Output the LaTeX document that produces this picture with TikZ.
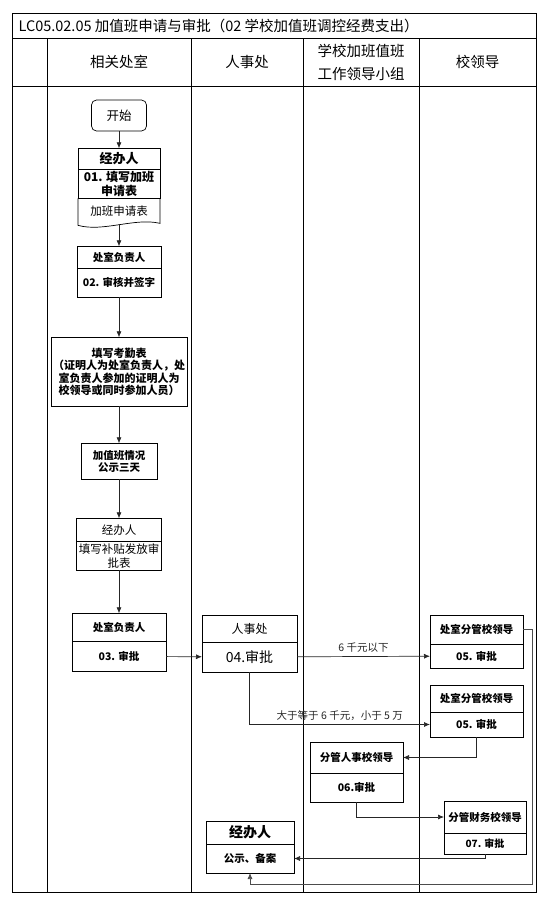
\documentclass[tikz,border=0pt]{standalone}
\usepackage{fontspec}
\setmainfont{Noto Sans CJK SC}
\usetikzlibrary{positioning,calc,arrows.meta}

\begin{document}
\begin{tikzpicture}[
    x=1pt, y=1pt, >={Latex[length=6pt,width=5pt]},
    box/.style 2 args={draw, line width=0.7pt, minimum width=#1, minimum height=#2, inner sep=1pt, outer sep=0pt, align=center},
    bsmall/.style={font=\fontsize{10.5}{12.5}\selectfont\bfseries},
    rsmall/.style={font=\fontsize{11.5}{14}\selectfont},
    hfont/.style={font=\fontsize{14.5}{23}\selectfont, align=center},
    flow/.style={->, line width=0.7pt, black!85},
    lane/.style={line width=0.8pt}
]
    \useasboundingbox (0,0) rectangle (547,-902);

    % table frame and lanes
    \draw[lane] (12,-13) rectangle (536,-892);
    \draw[lane] (12,-38) -- (536,-38);
    \draw[lane] (12,-86) -- (536,-86);
    \foreach \x in {47,191,303,419}
        \draw[lane] (\x,-38) -- (\x,-892);

    \node[anchor=west, font=\fontsize{14.5}{16}\selectfont] (title) at (15,-25.5) {LC05.02.05 加值班申请与审批（02 学校加值班调控经费支出）};
    \node[hfont] (lane1) at (119,-62) {相关处室};
    \node[hfont] (lane2) at (247,-62) {人事处};
    \node[hfont] (lane3) at (361,-62) {学校加班值班\\工作领导小组};
    \node[hfont] (lane4) at (477.5,-62) {校领导};

    % left lane
    \node[draw, rounded corners=5pt, line width=0.7pt, minimum width=55, minimum height=31, font=\fontsize{12.5}{14}\selectfont] (start) at (119,-115.5) {开始};
    \node[box={82}{21}, font=\fontsize{13}{15}\selectfont\bfseries, below=17pt of start] (jb1) {经办人};
    \node[box={82}{29}, font=\fontsize{12}{13.5}\selectfont\bfseries, below=0pt of jb1] (jb1b) {01. 填写加班\\申请表};
    \node[box={82}{26}, draw=none, rsmall, below=0pt of jb1b] (jb1d) {加班申请表};
    \draw[line width=0.7pt] (jb1d.north west) -- ($(jb1d.south west)+(0,-1)$)
        .. controls +(25,-7) and +(-25,6) .. ($(jb1d.south east)+(0,1)$) -- (jb1d.north east);

    \node[box={84}{22}, bsmall, below=22pt of jb1d] (fz1) {处室负责人};
    \node[box={84}{29}, bsmall, below=0pt of fz1] (fz1b) {02. 审核并签字};

    \node[box={136}{69}, font=\fontsize{11}{12.5}\selectfont\bfseries, below=40pt of fz1b] (kq) {填写考勤表\\（证明人为处室负责人，处\\室负责人参加的证明人为\\校领导或同时参加人员）};
    \node[box={76}{36}, bsmall, below=37pt of kq] (gs) {加值班情况\\公示三天};

    \node[box={85}{23}, rsmall, below=39pt of gs] (jb2) {经办人};
    \node[box={85}{29}, font=\fontsize{11.5}{13.5}\selectfont, below=0pt of jb2] (jb2b) {填写补贴发放审\\批表};

    \node[box={94}{28}, bsmall, below=43pt of jb2b] (fz2) {处室负责人};
    \node[box={94}{30}, bsmall, below=0pt of fz2] (fz2b) {03. 审批};

    % other lanes
    \node[box={95}{27}, font=\fontsize{12}{14}\selectfont] (rs) at (249.5,-628.5) {人事处};
    \node[box={95}{30}, font=\fontsize{14}{16}\selectfont, below=0pt of rs] (rsb) {04.审批};

    \node[box={93}{29}, bsmall] (ld1) at (476.5,-629.5) {处室分管校领导};
    \node[box={93}{24}, bsmall, below=0pt of ld1] (ld1b) {05. 审批};

    \node[box={93}{27}, bsmall] (ld2) at (476.5,-698.5) {处室分管校领导};
    \node[box={93}{25}, bsmall, below=0pt of ld2] (ld2b) {05. 审批};

    \node[box={93}{31}, bsmall] (rsld) at (356.5,-757.5) {分管人事校领导};
    \node[box={93}{29}, bsmall, below=0pt of rsld] (rsldb) {06.审批};

    \node[box={82}{32}, bsmall] (cwld) at (485,-817) {分管财务校领导};
    \node[box={82}{21}, font=\fontsize{10}{12}\selectfont\bfseries, below=0pt of cwld] (cwldb) {07. 审批};

    \node[box={88}{23}, font=\fontsize{14}{16}\selectfont\bfseries] (jb3) at (250,-832.5) {经办人};
    \node[box={88}{29}, bsmall, below=0pt of jb3] (jb3b) {公示、备案};

    \coordinate (back) at (532,-884);

    % connectors
    \draw[flow] (start) -- (jb1);
    \draw[flow] (jb1d) -- (fz1);
    \draw[flow] (fz1b) -- (kq);
    \draw[flow] (kq) -- (gs);
    \draw[flow] (gs) -- (jb2);
    \draw[flow] (jb2b) -- (fz2);
    \draw[flow] (fz2b) -- (rsb);
    \draw[flow] (rsb) -- node[above, font=\fontsize{10.5}{12}\selectfont] (lbl1) {6 千元以下} (ld1b);
    \draw[flow] (rsb.south) |- node[pos=0.75, above, font=\fontsize{10.5}{12}\selectfont] (lbl2) {大于等于 6 千元，小于 5 万} (ld2b.west);
    \draw[flow] (ld2b.south) |- (rsld.east);
    \draw[flow] (rsldb.south) |- (cwld.west);
    \draw[flow] (cwldb.south) |- (jb3b.east);
    \draw[flow, black!70] (ld1.east) -| (back) -| (jb3b.south);
\end{tikzpicture}
\end{document}
